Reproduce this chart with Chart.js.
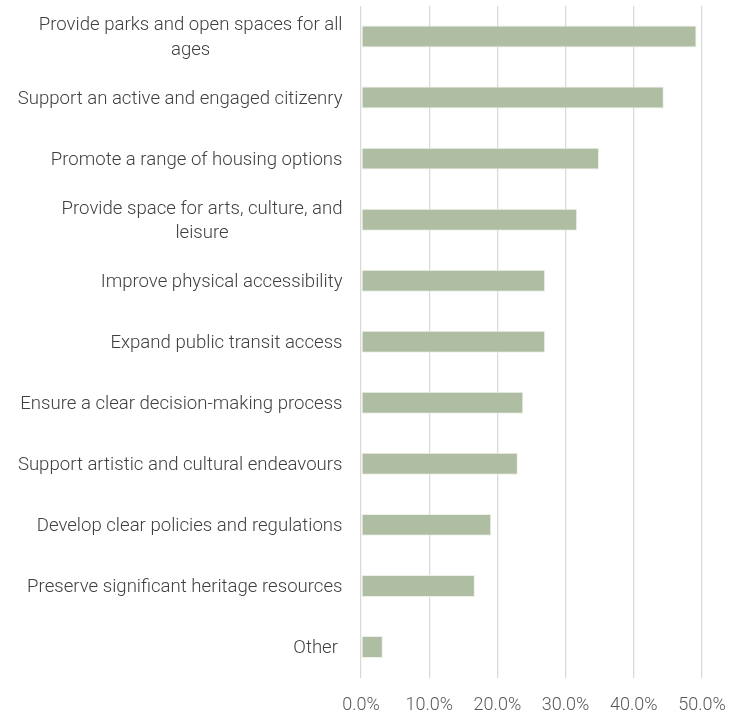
<!DOCTYPE html>
<html>
<head>
<meta charset="utf-8">
<script src="https://cdn.jsdelivr.net/npm/chart.js@4/dist/chart.umd.min.js"></script>
<style>
  html, body { margin: 0; padding: 0; background: #fff; }
  #wrap { width: 746px; height: 715px; }
</style>
</head>
<body>
<div id="wrap"><canvas id="chart"></canvas></div>
<script>
// categorias (las de dos lineas van como arreglos)
const categories = [
  ['Provide parks and open spaces for all', 'ages'],
  'Support an active and engaged citizenry',
  'Promote a range of housing options',
  ['Provide space for arts, culture, and', 'leisure'],
  'Improve physical accessibility',
  'Expand public transit access',
  'Ensure a clear decision-making process',
  'Support artistic and cultural endeavours',
  'Develop clear policies and regulations',
  'Preserve significant heritage resources',
  'Other '
];
const shares = [49.2, 44.4, 34.9, 31.7, 27.0, 27.0, 23.8, 23.0, 19.1, 16.7, 3.2];
const xTicks = [0, 10, 20, 30, 40, 50];

const LABEL_FONT = '300 18.6px Roboto';
const LINE_H = 24.5;

// dibuja las etiquetas del eje y: lineas centradas entre si, bloque alineado a la derecha
const yLabels = {
  id: 'yLabels',
  afterDraw(chart) {
    const { ctx } = chart;
    const y = chart.scales.y;
    const right = chart.chartArea.left - 18.5;
    ctx.save();
    ctx.font = LABEL_FONT;
    ctx.fillStyle = '#404040';
    ctx.textBaseline = 'middle';
    ctx.textAlign = 'center';
    categories.forEach((lab, i) => {
      const lines = Array.isArray(lab) ? lab : [lab];
      const widest = Math.max(...lines.map(l => ctx.measureText(l).width));
      const cx = right - widest / 2;
      const cy = y.getPixelForValue(i) + 1.5;
      lines.forEach((l, j) => {
        ctx.fillText(l, cx, cy + (j - (lines.length - 1) / 2) * LINE_H);
      });
    });
    ctx.restore();
  }
};

new Chart(document.getElementById('chart'), {
  type: 'bar',
  data: {
    labels: categories,
    datasets: [{
      data: shares,
      backgroundColor: '#afbea3',
      borderColor: 'rgba(235,240,230,0.9)',
      borderWidth: 1,
      borderSkipped: false,
      barPercentage: 0.36,
      categoryPercentage: 1
    }]
  },
  options: {
    indexAxis: 'y',
    responsive: true,
    maintainAspectRatio: false,
    animation: false,
    layout: { padding: { top: 6, right: 44, bottom: 0, left: 0 } },
    plugins: {
      legend: { display: false },
      tooltip: { enabled: false }
    },
    scales: {
      x: {
        min: 0,
        max: 50,
        afterBuildTicks: scale => { scale.ticks = xTicks.map(v => ({ value: v })); },
        afterFit: scale => { scale.height = 37.5; },
        border: { display: false },
        grid: { color: '#d9d9d9', lineWidth: 1.25, drawTicks: false },
        ticks: {
          padding: 17,
          color: '#595959',
          font: { family: 'Roboto', size: 18, weight: '300' },
          callback: v => v.toFixed(1) + '%'
        }
      },
      y: {
        afterFit: scale => { scale.width = 361; },
        border: { display: false },
        grid: { display: false },
        ticks: { display: false }
      }
    }
  },
  plugins: [yLabels]
});
</script>
</body>
</html>
